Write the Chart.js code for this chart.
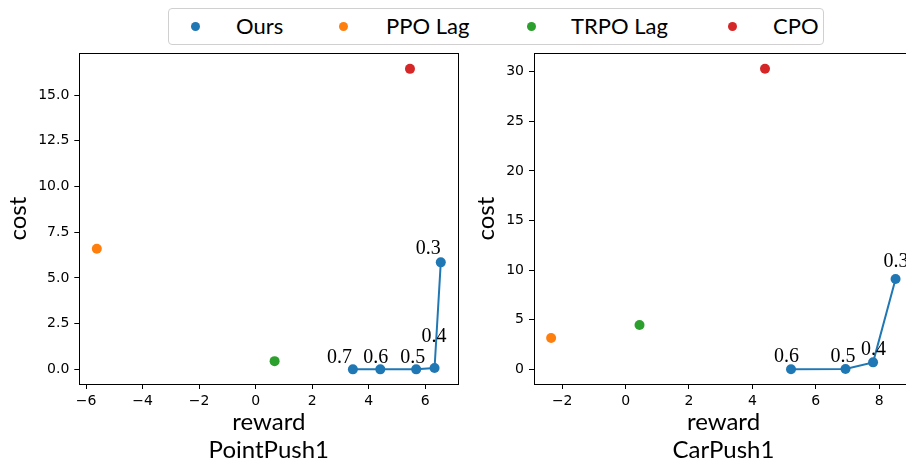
<!DOCTYPE html>
<html>
<head>
<meta charset="utf-8">
<script src="https://cdn.jsdelivr.net/npm/chart.js@4/dist/chart.umd.min.js"></script>
<style>
  html, body { margin: 0; padding: 0; background: #fff; }
  body { width: 906px; height: 464px; overflow: hidden; position: relative; }
  canvas { position: absolute; top: 0; }
  #point-chart { left: 0; }
  #car-chart { left: 460px; }
  #legend {
    position: absolute; left: 168px; top: 8px; width: 654px; height: 35px;
    border: 1px solid #d0d0d0; border-radius: 4px; background: #fff;
    font-family: Lato, "DejaVu Sans", sans-serif; font-size: 22px; color: #000;
  }
  .legend-marker { position: absolute; width: 9px; height: 9px; border-radius: 50%; top: 13px; }
  .legend-text { position: absolute; top: 3px; line-height: 28px; white-space: nowrap; }
</style>
</head>
<body>
<canvas id="point-chart" width="470" height="464"></canvas>
<canvas id="car-chart" width="460" height="464"></canvas>
<div id="legend"></div>
<script>
// Methods and their colours
const methods = ['Ours', 'PPO Lag', 'TRPO Lag', 'CPO'];
const methodColors = ['#1f77b4', '#ff7f0e', '#2ca02c', '#d62728'];

// PointPush1: our method at different thresholds, then the baselines (PPO Lag, TRPO Lag, CPO)
const pointOursReward = [3.44, 4.41, 5.68, 6.33, 6.55];
const pointOursCost = [0.0, 0.0, 0.0, 0.07, 5.85];
const pointOursLabels = ['0.7', '0.6', '0.5', '0.4', '0.3'];
const pointBaseReward = [-5.62, 0.67, 5.46];
const pointBaseCost = [6.59, 0.45, 16.43];
const pointXTicks = [-6, -4, -2, 0, 2, 4, 6];
const pointYTicks = [0, 2.5, 5, 7.5, 10, 12.5, 15];

// CarPush1
const carOursReward = [5.22, 6.94, 7.81, 8.52];
const carOursCost = [0.0, 0.03, 0.7, 9.1];
const carOursLabels = ['0.6', '0.5', '0.4', '0.3'];
const carBaseReward = [-2.35, 0.44, 4.40];
const carBaseCost = [3.16, 4.47, 30.3];
const carXTicks = [-2, 0, 2, 4, 6, 8];
const carYTicks = [0, 5, 10, 15, 20, 25, 30];

// Text offsets (px) of the threshold labels relative to their points
const pointLabelOffsets = [[-26, -6], [-17, -6], [-16, -6], [-13, -26], [-25, -8]];
const carLabelOffsets = [[-17, -7], [-15, -7], [-12, -7], [-12, -12]];

const tickFont = { family: 'DejaVu Sans', size: 14 };
const titleFont = { family: 'Lato, "DejaVu Sans", sans-serif', size: 24, lineHeight: 1.15 };

function minusSign(v) {
    return String(v).replace('-', '\u2212');
}

// Full box around the plot area
const framePlugin = {
    id: 'frame',
    afterDraw(chart) {
        const { ctx, chartArea: a } = chart;
        ctx.save();
        ctx.strokeStyle = '#000';
        ctx.lineWidth = 1;
        const l = Math.round(a.left) + 0.5, t = Math.round(a.top) + 0.5;
        const r = Math.round(a.right) + 0.5, b = Math.round(a.bottom) + 0.5;
        ctx.strokeRect(l, t, r - l, b - t);
        ctx.restore();
    }
};

// Threshold labels next to our points
const thresholdPlugin = {
    id: 'thresholds',
    afterDatasetsDraw(chart, args, opts) {
        const { ctx } = chart;
        const meta = chart.getDatasetMeta(0);
        ctx.save();
        ctx.font = '20px "Liberation Serif", "DejaVu Serif", serif';
        ctx.fillStyle = '#000';
        ctx.textAlign = 'left';
        ctx.textBaseline = 'alphabetic';
        meta.data.forEach((pt, i) => {
            const [dx, dy] = opts.offsets[i];
            ctx.fillText(opts.labels[i], pt.x + dx, pt.y + dy);
        });
        ctx.restore();
    }
};

function buildChart(canvasId, cfg) {
    const ours = cfg.oursReward.map((x, i) => ({ x: x, y: cfg.oursCost[i] }));
    const datasets = [{
        label: methods[0],
        data: ours,
        showLine: true,
        borderColor: methodColors[0],
        backgroundColor: methodColors[0],
        borderWidth: 2,
        pointRadius: 5,
        pointBorderWidth: 0
    }];
    cfg.baseReward.forEach((x, i) => {
        datasets.push({
            label: methods[i + 1],
            data: [{ x: x, y: cfg.baseCost[i] }],
            backgroundColor: methodColors[i + 1],
            borderColor: methodColors[i + 1],
            pointRadius: 5,
            pointBorderWidth: 0
        });
    });

    return new Chart(document.getElementById(canvasId), {
        type: 'scatter',
        data: { datasets: datasets },
        plugins: [framePlugin, thresholdPlugin],
        options: {
            responsive: false,
            animation: false,
            layout: { padding: { top: 53.3, right: cfg.padRight, left: 0, bottom: 0 } },
            plugins: {
                legend: { display: false },
                tooltip: { enabled: false },
                thresholds: { labels: cfg.labels, offsets: cfg.offsets }
            },
            scales: {
                x: {
                    type: 'linear',
                    min: cfg.xMin,
                    max: cfg.xMax,
                    afterBuildTicks: scale => { scale.ticks = cfg.xTicks.map(v => ({ value: v })); },
                    afterFit: scale => { scale.height = 80; },
                    ticks: {
                        autoSkip: false,
                        maxRotation: 0,
                        padding: 4,
                        color: '#000',
                        font: tickFont,
                        callback: v => minusSign(v)
                    },
                    grid: { drawOnChartArea: false, tickLength: 5, tickColor: '#000' },
                    border: { display: false },
                    title: {
                        display: true,
                        text: ['reward', cfg.name],
                        color: '#000',
                        font: titleFont,
                        padding: { top: 0, bottom: 0 }
                    }
                },
                y: {
                    type: 'linear',
                    min: cfg.yMin,
                    max: cfg.yMax,
                    afterBuildTicks: scale => { scale.ticks = cfg.yTicks.map(v => ({ value: v })); },
                    afterFit: scale => { scale.width = cfg.yAxisWidth; },
                    ticks: {
                        autoSkip: false,
                        padding: 5,
                        color: '#000',
                        font: tickFont,
                        callback: cfg.yFormat
                    },
                    grid: { drawOnChartArea: false, tickLength: 5, tickColor: '#000' },
                    border: { display: false },
                    title: {
                        display: true,
                        text: 'cost',
                        color: '#000',
                        font: titleFont,
                        padding: { top: cfg.costPad, bottom: 0 }
                    }
                }
            }
        }
    });
}

buildChart('point-chart', {
    name: 'PointPush1',
    oursReward: pointOursReward, oursCost: pointOursCost,
    baseReward: pointBaseReward, baseCost: pointBaseCost,
    labels: pointOursLabels, offsets: pointLabelOffsets,
    xTicks: pointXTicks, yTicks: pointYTicks,
    xMin: -6.24, xMax: 7.17, yMin: -0.80, yMax: 17.28,
    yFormat: v => v.toFixed(1),
    yAxisWidth: 79.3, padRight: 11.7, costPad: 4
});

buildChart('car-chart', {
    name: 'CarPush1',
    oursReward: carOursReward, oursCost: carOursCost,
    baseReward: carBaseReward, baseCost: carBaseCost,
    labels: carOursLabels, offsets: carLabelOffsets,
    xTicks: carXTicks, yTicks: carYTicks,
    xMin: -2.89, xMax: 9.07, yMin: -1.48, yMax: 31.85,
    yFormat: v => String(v),
    yAxisWidth: 74, padRight: 7, costPad: 12
});

// Shared legend across both panels
const legendMarkerX = [26, 174, 362, 563];
const legendTextX = [67, 217, 402, 604];
const legend = document.getElementById('legend');
methods.forEach((name, i) => {
    const dot = document.createElement('span');
    dot.className = 'legend-marker';
    dot.style.left = (legendMarkerX[i] - 4.5) + 'px';
    dot.style.background = methodColors[i];
    legend.appendChild(dot);
    const txt = document.createElement('span');
    txt.className = 'legend-text';
    txt.style.left = legendTextX[i] + 'px';
    txt.textContent = name;
    legend.appendChild(txt);
});
</script>
</body>
</html>
